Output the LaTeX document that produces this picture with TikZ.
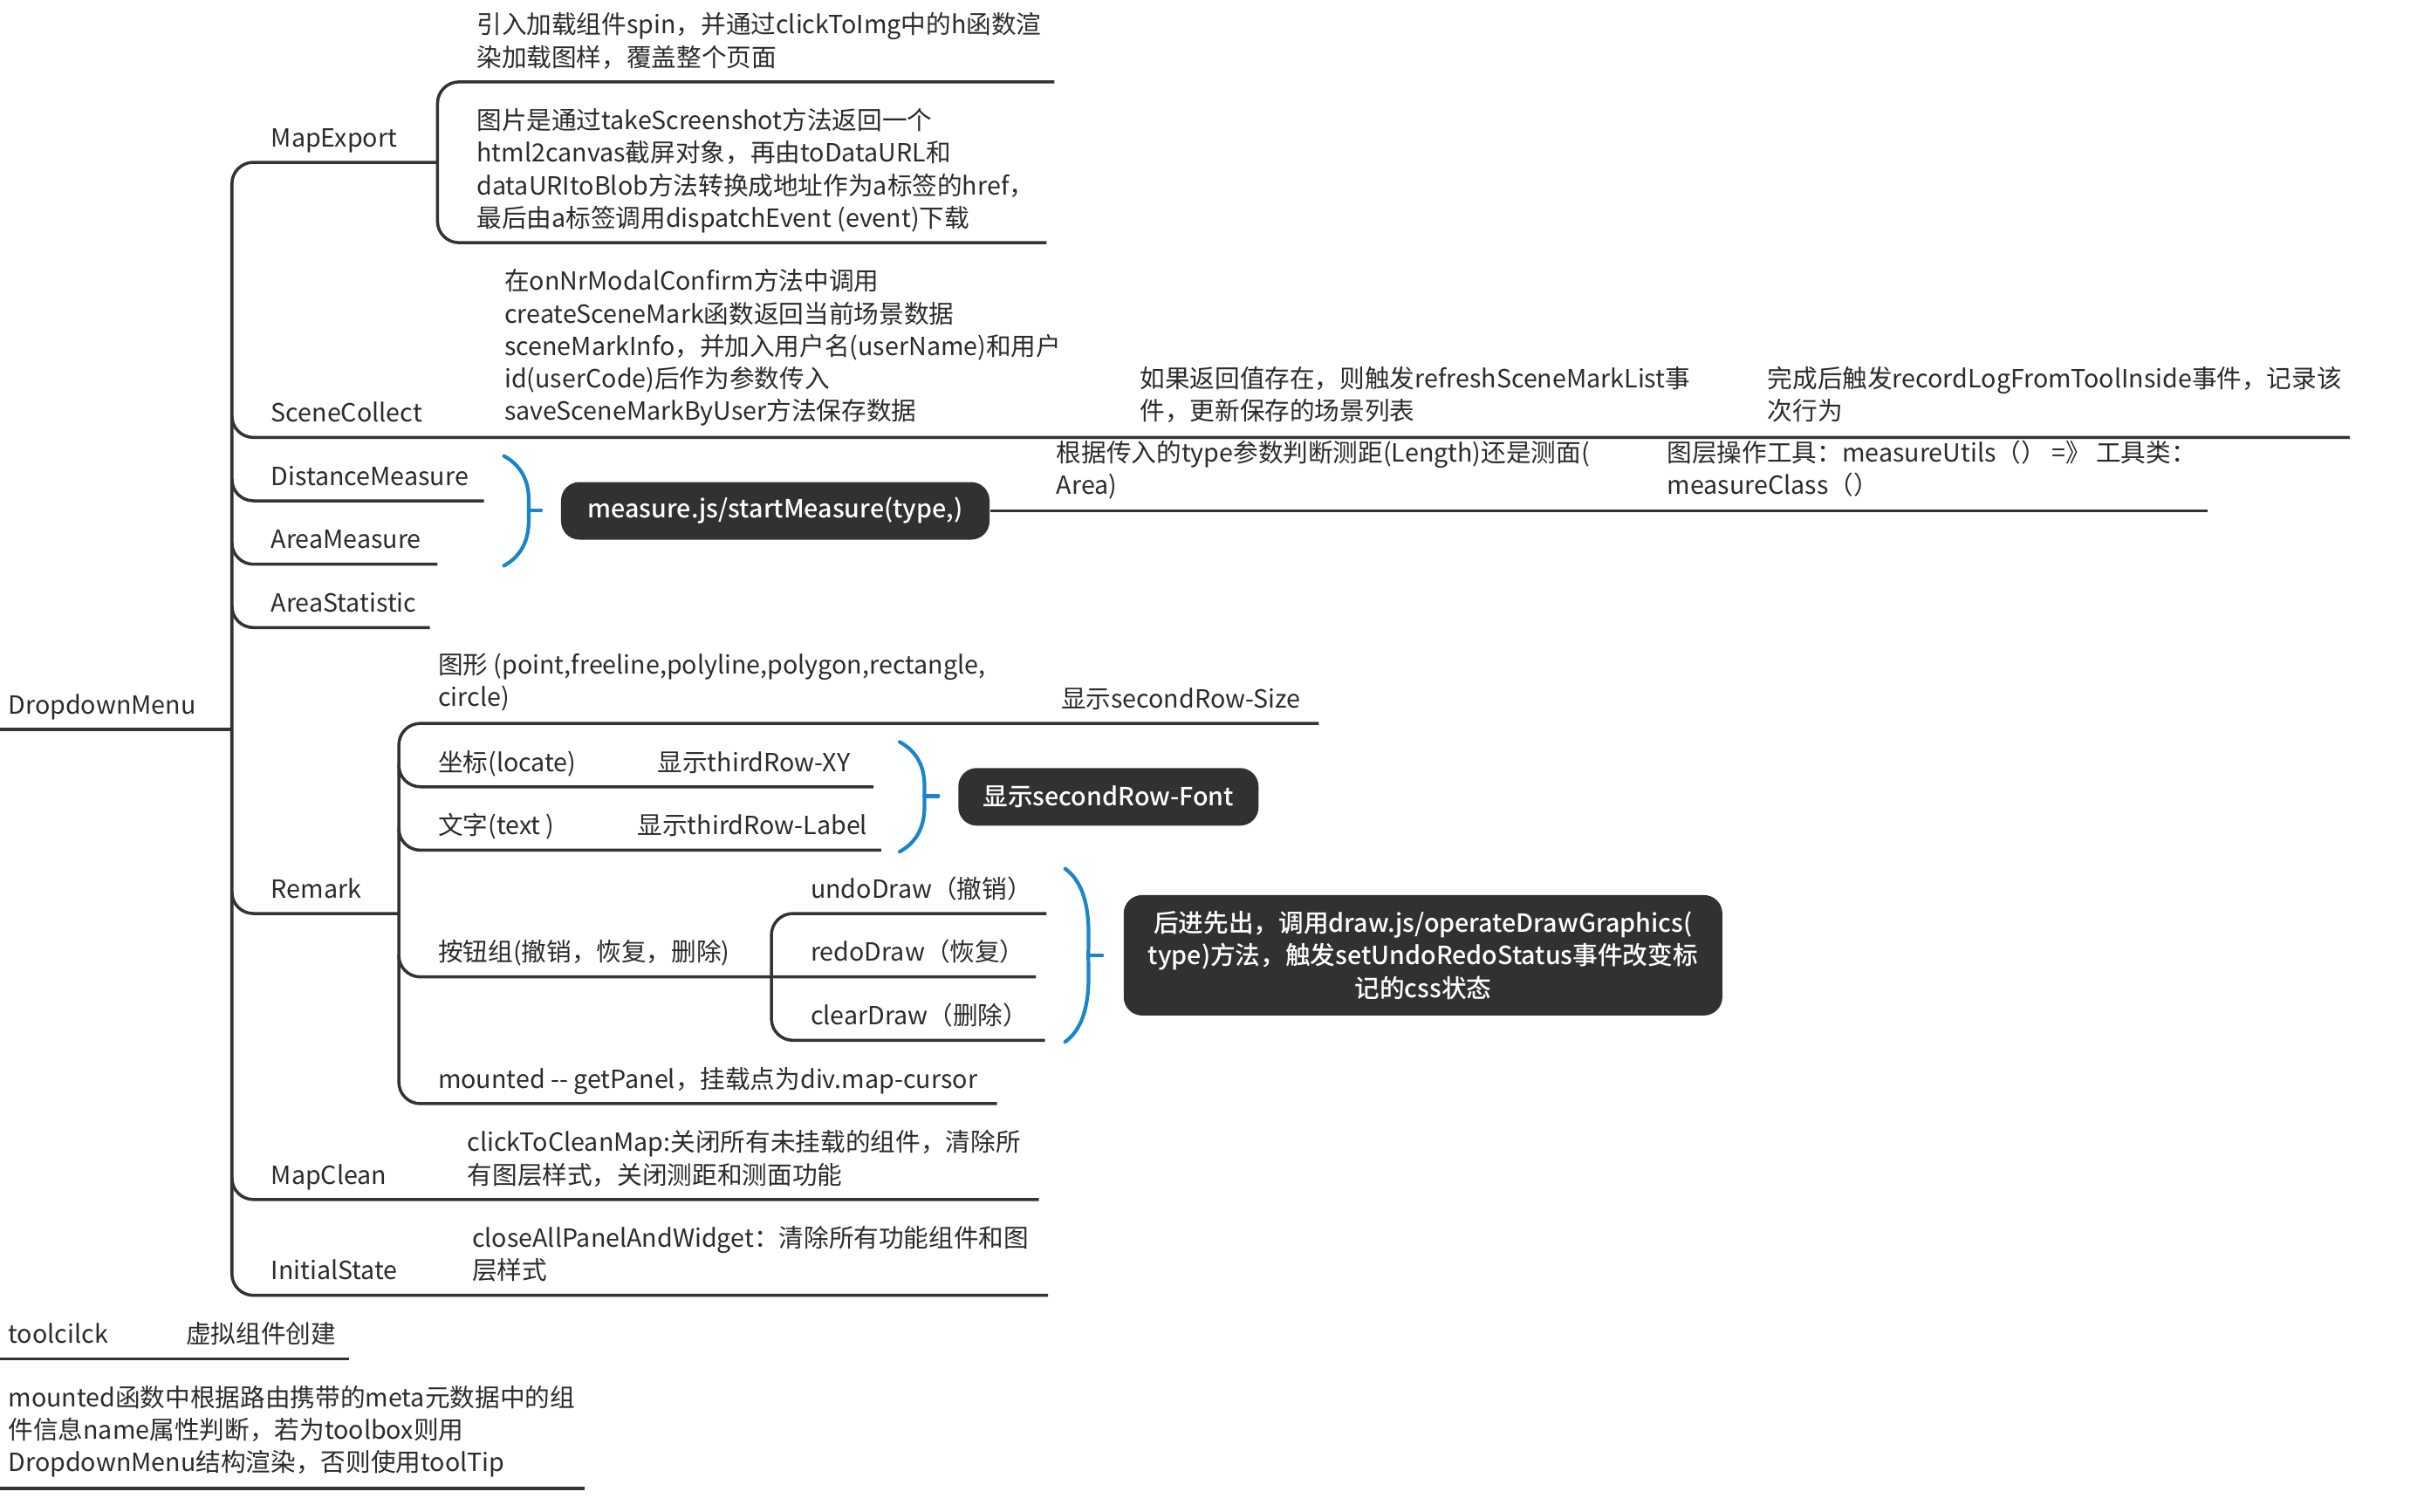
\documentclass[tikz,border=0pt]{standalone}
\usepackage{fontspec}
\setmainfont{Noto Sans CJK SC}[BoldFont={Noto Sans CJK SC Medium}]
\usetikzlibrary{positioning}
\definecolor{ink}{HTML}{2B2B2B}
\definecolor{lnk}{HTML}{333333}
\definecolor{xblue}{HTML}{1B86C7}
\definecolor{boxfill}{HTML}{313131}
\newcommand{\fs}{\fontsize{8.15}{10.6}\selectfont}

\begin{document}
\begin{tikzpicture}[
  x=0.017717cm, y=-0.017717cm,
  topic/.style={anchor=base west, inner sep=0pt, align=left, font=\fs, text=ink},
  ln/.style={draw=lnk, line width=1pt, rounded corners=7},
  brc/.style={draw=xblue, line width=1.2pt, line cap=round},
  sumbox/.style={fill=boxfill, rounded corners=6, text=white, font=\fs\bfseries,
    inner sep=0pt, align=center},
]

% Page
\fill[white] (0,0) rectangle (1568,978);
\useasboundingbox (0,0) rectangle (1568,978);

% Root
\node[topic] (menu) at (5,462) {DropdownMenu};

% Main branches
\node[topic] (mapexport) at (175,95) {MapExport};
\node[topic] (scene) at (175,273) {SceneCollect};
\node[topic] (dist) at (175,314) {DistanceMeasure};
\node[topic] (area) at (175,355) {AreaMeasure};
\node[topic] (stat) at (175,396) {AreaStatistic};
\node[topic] (remark) at (175,581) {Remark};
\node[topic] (clean) at (175,766) {MapClean};
\node[topic] (init) at (175,828) {InitialState};

% --- MapExport ---
\node[topic] (spin) at (308,43)
  {引入加载组件spin，并通过clickToImg中的h函数渲\\染加载图样，覆盖整个页面};
\node[topic] (shot) at (308,147)
  {图片是通过takeScreenshot方法返回一个\\html2canvas截屏对象，再由toDataURL和\\dataURItoBlob方法转换成地址作为a标签的href，\\最后由a标签调用dispatchEvent (event)下载};

% --- SceneCollect ---
\node[topic] (confirm) at (326,272)
  {在onNrModalConfirm方法中调用\\createSceneMark函数返回当前场景数据\\sceneMarkInfo，并加入用户名(userName)和用户\\id(userCode)后作为参数传入\\saveSceneMarkByUser方法保存数据};
\node[topic] (refresh) at (737,272)
  {如果返回值存在，则触发refreshSceneMarkList事\\件，更新保存的场景列表};
\node[topic] (log) at (1143,272)
  {完成后触发recordLogFromToolInside事件，记录该\\次行为};

% --- Measure ---
\node[sumbox, minimum width=4.91cm, minimum height=0.66cm] (measure) at (501.5,330.5)
  {measure.js/startMeasure(type,)};
\node[topic] (judge) at (683,320)
  {根据传入的type参数判断测距(Length)还是测面(\\Area)};
\node[topic] (utils) at (1078,320)
  {图层操作工具：measureUtils（） =》 工具类：\\measureClass（）};

% --- Remark ---
\node[topic] (shape) at (283,457)
  {图形 (point,freeline,polyline,polygon,rectangle,\\circle)};
\node[topic] (size) at (686,458) {显示secondRow-Size};
\node[topic] (locate) at (283,499) {坐标(locate)};
\node[topic] (xy) at (425,499) {显示thirdRow-XY};
\node[topic] (txt) at (283,540) {文字(text )};
\node[topic] (label) at (412,540) {显示thirdRow-Label};
\node[sumbox, minimum width=3.44cm, minimum height=0.66cm] (font) at (717,515.5)
  {显示secondRow-Font};
\node[topic] (btns) at (283,622) {按钮组(撤销，恢复，删除)};
\node[topic] (undo) at (524,581) {undoDraw（撤销）};
\node[topic] (redo) at (524,622) {redoDraw（恢复）};
\node[topic] (clear) at (524,663) {clearDraw（删除）};
\node[sumbox, minimum width=6.86cm, minimum height=1.38cm] (lifo) at (920.5,618)
  {后进先出，调用draw.js/operateDrawGraphics(\\type)方法，触发setUndoRedoStatus事件改变标\\记的css状态};
\node[topic] (panel) at (283,704) {mounted -{}- getPanel，挂载点为div.map-cursor};

% --- MapClean / InitialState ---
\node[topic] (cleanmap) at (302,766)
  {clickToCleanMap:关闭所有未挂载的组件，清除所\\有图层样式，关闭测距和测面功能};
\node[topic] (closeall) at (305,828)
  {closeAllPanelAndWidget：清除所有功能组件和图\\层样式};

% --- Floating topics ---
\node[topic] (tool) at (5,869) {toolcilck};
\node[topic] (virt) at (120,869) {虚拟组件创建};
\node[topic] (meta) at (5,952)
  {mounted函数中根据路由携带的meta元数据中的组\\件信息name属性判断，若为toolbox则用\\DropdownMenu结构渲染，否则使用toolTip};

% Lines
\draw[ln] (0,472) -- (150,472);
\draw[ln] (283,105) -- (150,105) -- (150,838) -- (678,838);
\foreach \yy/\xe in {283/1520, 324/313, 365/283, 406/278, 591/258, 776/672}
  \draw[ln] (150,\yy-14) |- (\xe,\yy);
\draw[ln] (682,53) -- (283,53) -- (283,157) -- (677,157);
\draw[ln] (measure.east) -- (1428,330.5);
\draw[ln] (853,468) -- (258,468) -- (258,714) -- (645,714);
\draw[ln] (258,495) |- (565,509);
\draw[ln] (258,536) |- (570,550);
\draw[ln] (258,618) |- (670,632);
\draw[ln] (677,591) -- (499,591) -- (499,673) -- (676,673);
\draw[ln] (0,879) -- (226,879);
\draw[ln] (0,963) -- (378,963);

% Summary braces
\draw[brc] (326,295) .. controls (344,305) and (342,322) .. (342,330)
  .. controls (342,338) and (344,356) .. (326,366);
\draw[brc] (342,330) -- (350,330);
\draw[brc] (582,480) .. controls (600,490) and (598,507) .. (598,515)
  .. controls (598,523) and (600,541) .. (582,551);
\draw[brc] (598,515) -- (607,515);
\draw[brc] (689,562) .. controls (707,575) and (704,605) .. (704,618)
  .. controls (704,631) and (707,661) .. (689,674);
\draw[brc] (704,618) -- (713,618);

\end{tikzpicture}
\end{document}
